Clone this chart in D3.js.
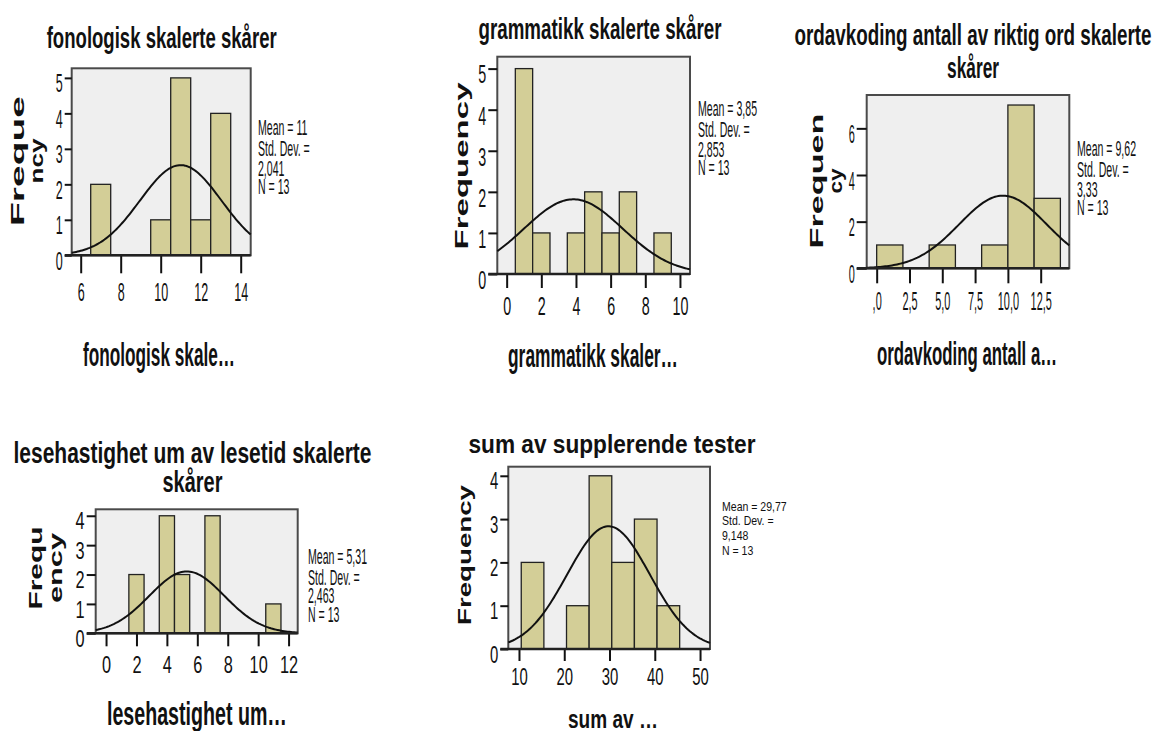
<!DOCTYPE html>
<html>
<head>
<meta charset="utf-8">
<script src="https://cdn.jsdelivr.net/npm/d3@7"></script>
<style>
  body { margin: 0; background: #fff; }
  text { font-family: "Liberation Sans", Arial, sans-serif; fill: #111; }
</style>
</head>
<body>
<div class="svg-container"></div>
<script>

// ---- chart data (one entry per histogram) ----
const titles = [
  ['fonologisk skalerte skårer'],
  ['grammatikk skalerte skårer'],
  ['ordavkoding antall av riktig ord skalerte', 'skårer'],
  ['lesehastighet um av lesetid skalerte', 'skårer'],
  ['sum av supplerende tester']
];
const xLabels = ['fonologisk skale…', 'grammatikk skaler…', 'ordavkoding antall a…', 'lesehastighet um…', 'sum av …'];
const yLabels = [['Freque', 'ncy'], ['Frequency'], ['Frequen', 'cy'], ['Frequ', 'ency'], ['Frequency']];

const binWidths = [1, 1, 2, 1, 5];
const binStarts = [
  [6.5, 9.5, 10.5, 11.5, 12.5],
  [0.5, 1.5, 3.5, 4.5, 5.5, 6.5, 8.5],
  [0, 4, 8, 10, 12],
  [1.5, 3.5, 4.5, 6.5, 10.5],
  [10.5, 20.5, 25.5, 30.5, 35.5, 40.5]
];
const counts = [
  [2, 1, 5, 1, 4],
  [5, 1, 1, 2, 1, 2, 1],
  [1, 1, 1, 7, 3],
  [2, 4, 2, 4, 1],
  [2, 1, 4, 2, 3, 1]
];

const means = [11, 3.85, 9.62, 5.31, 29.77];
const sds = [2.041, 2.853, 3.33, 2.463, 9.148];
const ns = [13, 13, 13, 13, 13];
const meanLabels = ['11', '3,85', '9,62', '5,31', '29,77'];
const sdLabels = ['2,041', '2,853', '3,33', '2,463', '9,148'];

const xDomains = [[5.55, 14.5], [-0.54, 10.58], [-0.76, 14.68], [-0.68, 12.6], [7.64, 52.2]];
const yMaxes = [5.27, 5.29, 7.43, 4.22, 4.21];
const xTicks = [[6, 8, 10, 12, 14], [0, 2, 4, 6, 8, 10], [0, 2.5, 5, 7.5, 10, 12.5], [0, 2, 4, 6, 8, 10, 12], [10, 20, 30, 40, 50]];
const xTickLabels = [null, null, [',0', '2,5', '5,0', '7,5', '10,0', '12,5'], null, null];
const yTicks = [[0, 1, 2, 3, 4, 5], [0, 1, 2, 3, 4, 5], [0, 2, 4, 6], [0, 1, 2, 3, 4], [0, 1, 2, 3, 4]];

// ---- layout of each panel (pixels) ----
const layout = [
  { box: [71.7, 68.3, 250.7, 255.3],
    title: { x: 161.7, y: [48], w: [230], size: 29 },
    xlab: { x: 159, y: 366, w: 152, size: 33 },
    ylab: { x: [18, 37], y: 161, w: [130, 45] },
    stats: { x: 258, y: 135, dy: [0, 21, 41, 59], size: 22, k: 0.48 },
    tick: { len: 18, ylen: 7, dy: 46, size: 25, k: 0.5 } },
  { box: [497.3, 56.7, 690, 274],
    title: { x: 600, y: [39], w: [243], size: 29 },
    xlab: { x: 593, y: 367, w: 170, size: 33 },
    ylab: { x: [462], y: 166, w: [167] },
    stats: { x: 698, y: 116, dy: [0, 21, 41, 59], size: 22, k: 0.48 },
    tick: { len: 14, ylen: 9, dy: 41, size: 26, k: 0.55 } },
  { box: [866.7, 95, 1069.3, 268.3],
    title: { x: 973, y: [45, 78], w: [357, 52], size: 29 },
    xlab: { x: 967, y: 365, w: 180, size: 33 },
    ylab: { x: [817, 836], y: 181, w: [135, 25] },
    stats: { x: 1077, y: 156, dy: [0, 21, 41, 59], size: 22, k: 0.48 },
    tick: { len: 15, ylen: 10, dy: 42, size: 26, k: 0.42 } },
  { box: [95.7, 509.3, 297.7, 633.3],
    title: { x: 192.5, y: [463, 492], w: [358, 60], size: 29 },
    xlab: { x: 197, y: 725, w: 180, size: 33 },
    ylab: { x: [36, 56], y: 568, w: [83, 70] },
    stats: { x: 308, y: 564, dy: [0, 21, 39, 58], size: 22, k: 0.48 },
    tick: { len: 13, ylen: 9, dy: 40, size: 24, k: 0.68 } },
  { box: [508.3, 466.7, 710, 649],
    title: { x: 612, y: [453], w: [287], size: 26 },
    xlab: { x: 613, y: 728, w: 90, size: 25 },
    ylab: { x: [465], y: 555, w: [140] },
    stats: { x: 722, y: 510.7, dy: [0, 14.5, 29, 44], size: 13, k: 0.81 },
    tick: { len: 12, ylen: 8, dy: 36, size: 24, k: 0.62 } }
];

// squeeze text horizontally, the source picture is stretched vertically
function squeeze(sel, k) {
  sel.each(function() {
    const w = this.getComputedTextLength();
    d3.select(this).attr('textLength', w * k).attr('lengthAdjust', 'spacingAndGlyphs');
  });
}

const svg = d3.select('.svg-container')
  .append('svg')
  .attr('width', 1157)
  .attr('height', 731);

layout.forEach((L, i) => {
  const [x0, y0, x1, y1] = L.box;
  const x = d3.scaleLinear().domain(xDomains[i]).range([x0, x1]);
  const y = d3.scaleLinear().domain([0, yMaxes[i]]).range([y1, y0]);
  const g = svg.append('g');

  // plot background
  g.append('rect')
    .attr('x', x0).attr('y', y0)
    .attr('width', x1 - x0).attr('height', y1 - y0)
    .attr('fill', '#efefef')
    .attr('stroke', '#4a4a4a')
    .attr('stroke-width', 2);

  // bars
  const bins = counts[i].map((c, j) => ({ x: binStarts[i][j], c: c }));
  g.selectAll('rect.bar')
    .data(bins)
    .enter()
    .append('rect')
    .attr('class', 'bar')
    .attr('x', d => x(d.x))
    .attr('y', d => y(d.c))
    .attr('width', d => x(d.x + binWidths[i]) - x(d.x))
    .attr('height', d => y(0) - y(d.c))
    .attr('fill', '#d3ce97')
    .attr('stroke', '#222')
    .attr('stroke-width', 1.3);

  // normal curve from mean / sd
  const [d0, d1] = xDomains[i];
  const pts = d3.range(121).map(k => d0 + (d1 - d0) * k / 120);
  const peak = ns[i] * binWidths[i] / (sds[i] * Math.sqrt(2 * Math.PI));
  const line = d3.line()
    .x(v => x(v))
    .y(v => y(peak * Math.exp(-0.5 * Math.pow((v - means[i]) / sds[i], 2))));
  g.append('path')
    .datum(pts)
    .attr('d', line)
    .attr('fill', 'none')
    .attr('stroke', '#111')
    .attr('stroke-width', 2);

  // x axis
  const xAxis = g.append('g')
    .attr('transform', `translate(0,${y1})`)
    .call(d3.axisBottom(x)
      .tickValues(xTicks[i])
      .tickSize(L.tick.len)
      .tickFormat((d, j) => xTickLabels[i] ? xTickLabels[i][j] : d));
  xAxis.select('.domain').remove();
  xAxis.selectAll('line').attr('stroke', '#111').attr('stroke-width', 2);
  xAxis.selectAll('text')
    .attr('y', L.tick.dy).attr('dy', null)
    .attr('font-size', L.tick.size)
    .attr('fill', '#111');
  squeeze(xAxis.selectAll('text'), L.tick.k);

  // y axis
  const yAxis = g.append('g')
    .attr('transform', `translate(${x0},0)`)
    .call(d3.axisLeft(y)
      .tickValues(yTicks[i])
      .tickSize(L.tick.ylen)
      .tickPadding(2)
      .tickFormat(d3.format('d')));
  yAxis.select('.domain').remove();
  yAxis.selectAll('line').attr('stroke', '#111').attr('stroke-width', 2);
  yAxis.selectAll('text')
    .attr('dy', '0.55em')
    .attr('font-size', L.tick.size)
    .attr('fill', '#111');
  squeeze(yAxis.selectAll('text'), L.tick.k);

  // baseline
  g.append('line')
    .attr('x1', x0 - L.tick.ylen).attr('x2', x1)
    .attr('y1', y1).attr('y2', y1)
    .attr('stroke', '#222')
    .attr('stroke-width', 2.5);

  // title
  titles[i].forEach((t, j) => {
    g.append('text')
      .attr('x', L.title.x)
      .attr('y', L.title.y[j])
      .attr('text-anchor', 'middle')
      .attr('font-size', L.title.size)
      .attr('font-weight', 'bold')
      .attr('textLength', L.title.w[j])
      .attr('lengthAdjust', 'spacingAndGlyphs')
      .text(t);
  });

  // x label
  g.append('text')
    .attr('x', L.xlab.x)
    .attr('y', L.xlab.y)
    .attr('text-anchor', 'middle')
    .attr('font-size', L.xlab.size)
    .attr('font-weight', 'bold')
    .attr('textLength', L.xlab.w)
    .attr('lengthAdjust', 'spacingAndGlyphs')
    .text(xLabels[i]);

  // y label (rotated, wrapped)
  yLabels[i].forEach((t, j) => {
    g.append('text')
      .attr('transform', `translate(${L.ylab.x[j]},${L.ylab.y}) rotate(-90)`)
      .attr('dy', '0.36em')
      .attr('text-anchor', 'middle')
      .attr('font-size', 18)
      .attr('font-weight', 'bold')
      .attr('textLength', L.ylab.w[j])
      .attr('lengthAdjust', 'spacingAndGlyphs')
      .text(t);
  });

  // statistics
  const statLines = [`Mean = ${meanLabels[i]}`, 'Std. Dev. =', sdLabels[i], `N = ${ns[i]}`];
  const stats = g.selectAll('text.stat')
    .data(statLines)
    .enter()
    .append('text')
    .attr('class', 'stat')
    .attr('x', L.stats.x)
    .attr('y', (d, j) => L.stats.y + L.stats.dy[j])
    .attr('font-size', L.stats.size)
    .text(d => d);
  squeeze(stats, L.stats.k);
});

</script>
</body>
</html>
